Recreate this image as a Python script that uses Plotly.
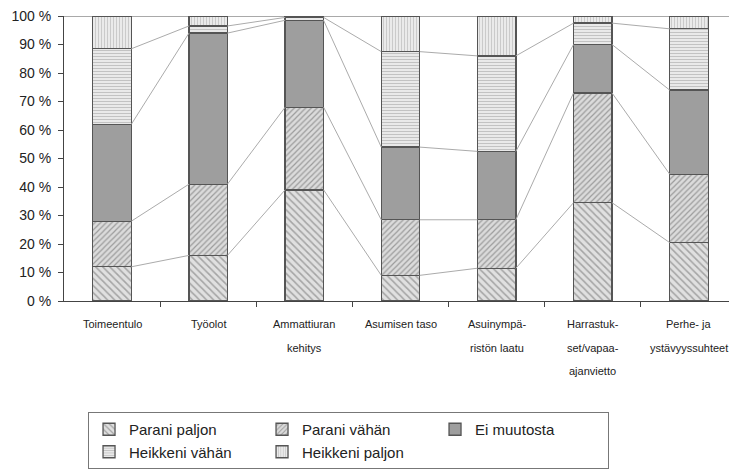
import plotly.graph_objects as go

categories = ["Toimeentulo", "Työolot", "Ammattiuran<br>kehitys", "Asumisen taso",
              "Asuinympä-<br>ristön laatu", "Harrastuk-<br>set/vapaa-<br>ajanvietto",
              "Perhe- ja<br>ystävyyssuhteet"]
series_names = ["Parani paljon", "Parani vähän", "Ei muutosta", "Heikkeni vähän", "Heikkeni paljon"]
parani_paljon = [12, 16, 39, 9, 11.5, 34.5, 20.5]
parani_vahan = [16, 25, 29, 19.5, 17, 38.5, 24]
ei_muutosta = [34, 53, 30.5, 25.5, 24, 17, 29.5]
heikkeni_vahan = [26.5, 2.5, 1, 33.5, 33.5, 7.5, 21.5]
heikkeni_paljon = [11.5, 3.5, 0.5, 12.5, 14, 2.5, 4.5]
ytick_vals = [0, 10, 20, 30, 40, 50, 60, 70, 80, 90, 100]
ytick_text = [f"{v} %" for v in ytick_vals]

values = [parani_paljon, parani_vahan, ei_muutosta, heikkeni_vahan, heikkeni_paljon]
styles = [
    dict(shape="\\", fg="#a4a4a4", bg="#e0e0e0", size=5, solidity=0.3),
    dict(shape="/", fg="#9c9c9c", bg="#dbdbdb", size=4, solidity=0.3),
    None,
    dict(shape="-", fg="#bdbdbd", bg="#e9e9e9", size=3, solidity=0.3),
    dict(shape="|", fg="#c6c6c6", bg="#eaeaea", size=3, solidity=0.3),
]
BAR_W = 0.4

fig = go.Figure()
for name, vals, st in zip(series_names, values, styles):
    if st is None:
        marker = dict(color="#9e9e9e", line=dict(color="#555555", width=1.3))
    else:
        marker = dict(color=st["bg"], line=dict(color="#555555", width=1.3),
                      pattern=dict(shape=st["shape"], fgcolor=st["fg"], bgcolor=st["bg"],
                                   size=st["size"], solidity=st["solidity"], fillmode="replace"))
    fig.add_trace(go.Bar(x=list(range(len(categories))), y=vals, name=name, marker=marker,
                         width=BAR_W))

# series lines connecting cumulative boundaries
cums = []
running = [0.0] * len(categories)
for vals in values:
    running = [r + v for r, v in zip(running, vals)]
    cums.append(list(running))
lx, ly = [], []
for cum in cums[:-1]:
    for i in range(len(categories) - 1):
        lx += [i + BAR_W / 2, i + 1 - BAR_W / 2, None]
        ly += [cum[i], cum[i + 1], None]
fig.add_trace(go.Scatter(x=lx, y=ly, mode="lines", line=dict(color="#ababab", width=1),
                         showlegend=False, hoverinfo="skip"))

# category labels (multi-line)
annotations = []
for i, lab in enumerate(categories):
    for k, line in enumerate(lab.split("<br>")):
        annotations.append(dict(x=i, y=0, xref="x", yref="paper", text=line, showarrow=False,
                                yanchor="middle", yshift=-23 - 23.5 * k,
                                font=dict(family="Liberation Sans, Arial", size=11,
                                          color="#222222")))

# the page body adds an 8px offset; width/height/margins compensate for it
fig.update_layout(
    width=729, height=461,
    margin=dict(l=56, r=0, t=8, b=167),
    paper_bgcolor="white", plot_bgcolor="white",
    barmode="stack", bargap=0.6,
    font=dict(family="Liberation Sans, Arial, Helvetica", color="#222222"),
    xaxis=dict(range=[-0.5, 6.5], tickvals=[i + 0.5 for i in range(len(categories))],
               showticklabels=False, ticks="outside", ticklen=5, tickcolor="#444",
               showline=True, linecolor="#444", linewidth=1, showgrid=False, zeroline=False,
               automargin=False),
    yaxis=dict(range=[0, 100], tickvals=ytick_vals, ticktext=ytick_text, ticks="outside",
               ticklen=5, tickcolor="#444", showline=True, linecolor="#444", linewidth=1,
               showgrid=False, zeroline=False, tickfont=dict(size=14, color="#222222"),
               ticklabelstandoff=4, automargin=False, ticklabeloverflow="allow"),
    shapes=[dict(type="line", xref="paper", yref="y", x0=0, x1=1, y0=100, y1=100,
                 line=dict(color="#555555", width=1.2))],
    annotations=annotations,
    legend=dict(orientation="h", x=0.0357, y=-0.388, xanchor="left", yanchor="top",
                bordercolor="#777777", borderwidth=1, font=dict(size=15, color="#222222"),
                entrywidth=128, itemwidth=30, traceorder="normal", bgcolor="white"),
)
fig.write_html("out.html")
